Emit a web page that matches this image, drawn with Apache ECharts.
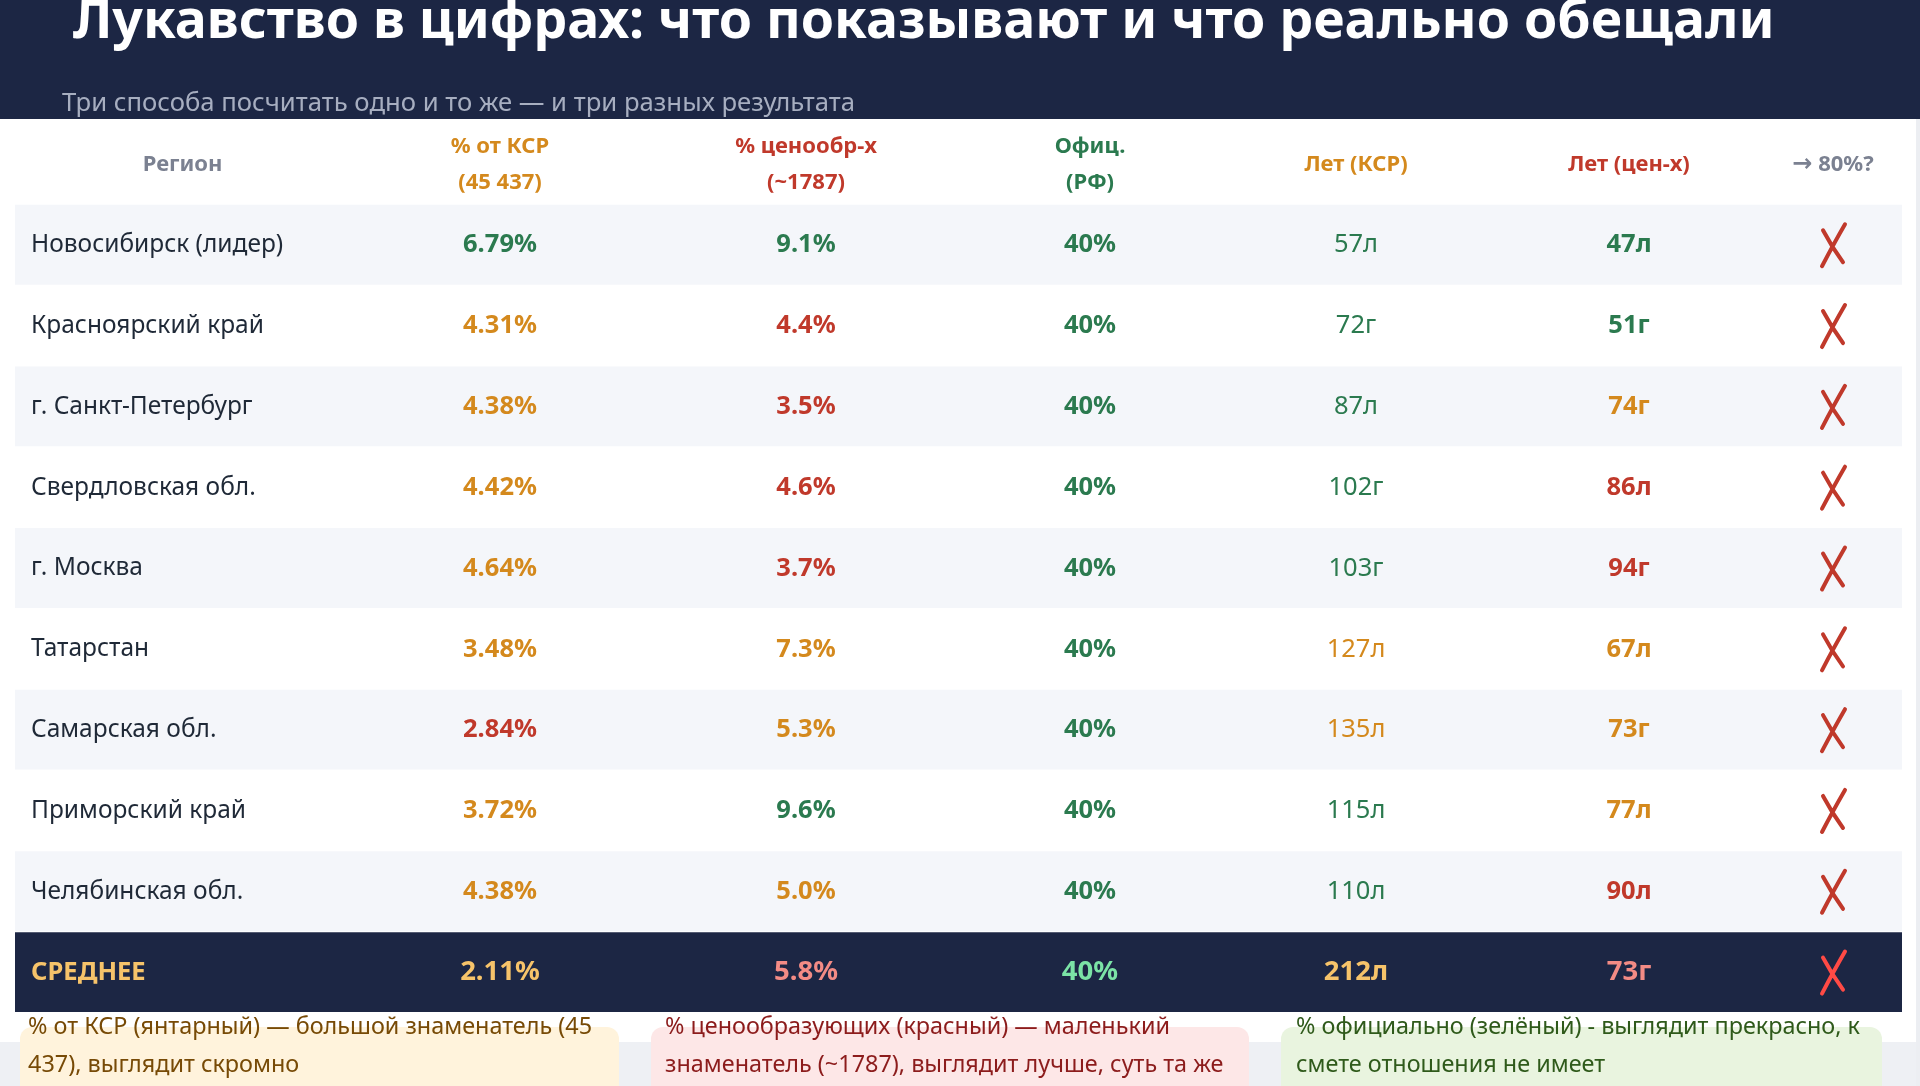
<!DOCTYPE html>
<html>
<head>
<meta charset="utf-8">
<script src="https://cdn.jsdelivr.net/npm/echarts@6/dist/echarts.min.js"></script>
<style>
html, body {margin: 0; padding: 0; background: #fff;}
#main {width: 1920px; height: 1086px;}
</style>
</head>
<body>
<div id="main"></div>
<script>
// данные таблицы
var columns = ['Регион', '% от КСР\n(45 437)', '% ценообр-х\n(~1787)', 'Офиц.\n(РФ)', 'Лет (КСР)', 'Лет (цен-х)', '{a|→} 80%?'];
var regions = ['Новосибирск (лидер)', 'Красноярский край', 'г. Санкт-Петербург', 'Свердловская обл.', 'г. Москва',
    'Татарстан', 'Самарская обл.', 'Приморский край', 'Челябинская обл.'];
var pctKsr = [6.79, 4.31, 4.38, 4.42, 4.64, 3.48, 2.84, 3.72, 4.38];
var pctCen = [9.1, 4.4, 3.5, 4.6, 3.7, 7.3, 5.3, 9.6, 5.0];
var pctOfficial = [40, 40, 40, 40, 40, 40, 40, 40, 40];
var yearsKsr = [57, 72, 87, 102, 103, 127, 135, 115, 110];
var yearsCen = [47, 51, 74, 86, 94, 67, 73, 77, 90];
var reaches80 = [false, false, false, false, false, false, false, false, false];
var avgLabel = 'СРЕДНЕЕ';
var avgValues = [2.11, 5.8, 40, 212, 73];
var avgReaches80 = false;
var title = 'Лукавство в цифрах: что показывают и что реально обещали';
var subtitle = 'Три способа посчитать одно и то же — и три разных результата';
var notes = [
    '% от КСР (янтарный) — большой знаменатель (45\n437), выглядит скромно',
    '% ценообразующих (красный) — маленький\nзнаменатель (~1787), выглядит лучше, суть та же',
    '% официально (зелёный) - выглядит прекрасно, к\nсмете отношения не имеет'
];

// раскладка
var colWidths = [335, 300, 312, 256, 276, 270, 138];
var colEdges = [0];
colWidths.forEach(function (w, i) { colEdges.push(colEdges[i] + w); });
var total = colEdges[colEdges.length - 1];
var FONT = "'Noto Sans', 'Open Sans', sans-serif";

var GREEN = '#2b7a4f', AMBER = '#d4891d', RED = '#c0392b', GRAY = '#7b8191', NAVY = '#1c2644';
var headColors = [GRAY, AMBER, RED, GREEN, AMBER, RED, GRAY];

function tone(v, hi, mid, reverse) {
    if (!reverse) return v >= hi ? GREEN : v >= mid ? AMBER : RED;
    return v < hi ? GREEN : v < mid ? AMBER : RED;
}
function yearsText(n) {
    var d = n % 10, dd = n % 100;
    return n + ((d >= 1 && d <= 4 && !(dd >= 11 && dd <= 14)) ? 'г' : 'л');
}

var rows = [''].concat(regions, [avgLabel]);
var avgRow = rows.length - 1;

// ячейки
var cells = [];
columns.forEach(function (c, i) {
    cells.push({value: [i, 0], text: c, color: headColors[i], bold: true, size: 22});
});
regions.forEach(function (name, k) {
    var r = k + 1;
    cells.push({value: [0, r], text: name, color: '#1f2937', bold: false, size: 24.5, left: true});
    cells.push({value: [1, r], text: pctKsr[k].toFixed(2) + '%', color: tone(pctKsr[k], 5, 3), bold: true, size: 25.5});
    cells.push({value: [2, r], text: pctCen[k].toFixed(1) + '%', color: tone(pctCen[k], 8, 5), bold: true, size: 25.5});
    cells.push({value: [3, r], text: pctOfficial[k] + '%', color: GREEN, bold: true, size: 25.5});
    cells.push({value: [4, r], text: yearsText(yearsKsr[k]), color: tone(yearsKsr[k], 120, 200, true), bold: false, size: 25.5});
    cells.push({value: [5, r], text: yearsText(yearsCen[k]), color: tone(yearsCen[k], 60, 80, true), bold: true, size: 25.5});
    cells.push({value: [6, r], text: reaches80[k] ? '✓' : '✗', color: RED, mark: true});
});
var avgColors = ['#f6c36a', '#f38b85', '#7be3a6', '#f6c36a', '#f38b85'];
cells.push({value: [0, avgRow], text: avgLabel, color: '#f6c36a', bold: true, size: 25.5, left: true});
cells.push({value: [1, avgRow], text: avgValues[0].toFixed(2) + '%', color: avgColors[0], bold: true, size: 27.5});
cells.push({value: [2, avgRow], text: avgValues[1].toFixed(1) + '%', color: avgColors[1], bold: true, size: 27.5});
cells.push({value: [3, avgRow], text: avgValues[2] + '%', color: avgColors[2], bold: true, size: 27.5});
cells.push({value: [4, avgRow], text: yearsText(avgValues[3]), color: avgColors[3], bold: true, size: 27.5});
cells.push({value: [5, avgRow], text: yearsText(avgValues[4]), color: avgColors[4], bold: true, size: 27.5});
cells.push({value: [6, avgRow], text: avgReaches80 ? '✓' : '✗', color: '#ff4a45', mark: true});

var chart = echarts.init(document.getElementById('main'), null, {renderer: 'canvas'});

var option = {
    backgroundColor: '#ffffff',
    animation: false,
    grid: {left: 15, right: 18, top: 124, bottom: 73},
    xAxis: {type: 'value', min: 0, max: total, show: false},
    yAxis: {type: 'category', data: rows, inverse: true, show: false},
    graphic: [
        {type: 'rect', z: 1, shape: {x: 0, y: 0, width: 1920, height: 119}, style: {fill: NAVY}},
        {type: 'text', z: 2, style: {x: 73, y: 23, text: title, fill: '#ffffff', font: 'bold 53.6px ' + FONT, verticalAlign: 'middle'}},
        {type: 'text', z: 2, style: {x: 62, y: 104, text: subtitle, fill: '#a7aec0', font: '25.7px ' + FONT, verticalAlign: 'middle'}},
        {type: 'rect', z: 0, shape: {x: 0, y: 1042, width: 1920, height: 44}, style: {fill: '#eef0f4'}},
        {type: 'rect', z: 0, shape: {x: 1916, y: 119, width: 4, height: 967}, style: {fill: '#eceef2'}},
        {type: 'rect', z: 3, shape: {x: 20, y: 1027, width: 599, height: 90, r: 12}, style: {fill: '#fff3dc'}},
        {type: 'rect', z: 3, shape: {x: 651, y: 1027, width: 598, height: 90, r: 12}, style: {fill: '#fde7e7'}},
        {type: 'rect', z: 3, shape: {x: 1281, y: 1027, width: 601, height: 90, r: 12}, style: {fill: '#e9f4df'}},
        {type: 'text', z: 4, style: {x: 28, y: 1008, text: notes[0], fill: '#774a06', font: '23.4px ' + FONT, lineHeight: 38}},
        {type: 'text', z: 4, style: {x: 665, y: 1008, text: notes[1], fill: '#8c1c1c', font: '23.4px ' + FONT, lineHeight: 38}},
        {type: 'text', z: 4, style: {x: 1296, y: 1008, text: notes[2], fill: '#2f5a1b', font: '23.4px ' + FONT, lineHeight: 38}}
    ],
    series: [
        {
            type: 'custom',
            silent: true,
            z: 1,
            data: rows.map(function (r, i) { return [0, i]; }),
            renderItem: function (params, api) {
                var r = api.value(1);
                if (r === 0) return null;
                var fill = r === avgRow ? NAVY : (r % 2 === 1 ? '#f4f6fa' : '#ffffff');
                var a = api.coord([0, r]);
                var b = api.coord([total, r]);
                var h = api.size([0, 1])[1];
                return {type: 'rect', shape: {x: a[0], y: a[1] - h / 2, width: b[0] - a[0], height: h - 1}, style: {fill: fill}};
            }
        },
        {
            type: 'custom',
            silent: true,
            z: 2,
            data: cells.map(function (c) { return c.value; }),
            renderItem: function (params, api) {
                var cell = cells[params.dataIndex];
                var c = api.value(0), r = api.value(1);
                var mid = api.coord([(colEdges[c] + colEdges[c + 1]) / 2, r]);
                var left = api.coord([colEdges[c], r]);
                if (cell.mark) {
                    // рукописный крест
                    return {
                        type: 'path',
                        x: mid[0],
                        y: mid[1],
                        shape: {pathData: 'M12,-21 Q1,-2 -11,21 M-10,-15 Q-1,2 10,17'},
                        style: {fill: 'none', stroke: cell.color, lineWidth: 4, lineCap: 'round'}
                    };
                }
                var x = cell.left ? left[0] + 16 : mid[0];
                return {
                    type: 'text',
                    style: {
                        x: x,
                        y: mid[1],
                        text: cell.text,
                        fill: cell.color,
                        fontSize: cell.size,
                        fontWeight: cell.bold ? 'bold' : 'normal',
                        fontFamily: FONT,
                        lineHeight: 36,
                        align: cell.left ? 'left' : 'center',
                        verticalAlign: 'middle',
                        rich: {
                            a: {fontFamily: "'DejaVu Sans', sans-serif", fontWeight: 'bold', fontSize: 24, fill: cell.color}
                        }
                    }
                };
            }
        }
    ]
};

chart.setOption(option);
</script>
</body>
</html>
